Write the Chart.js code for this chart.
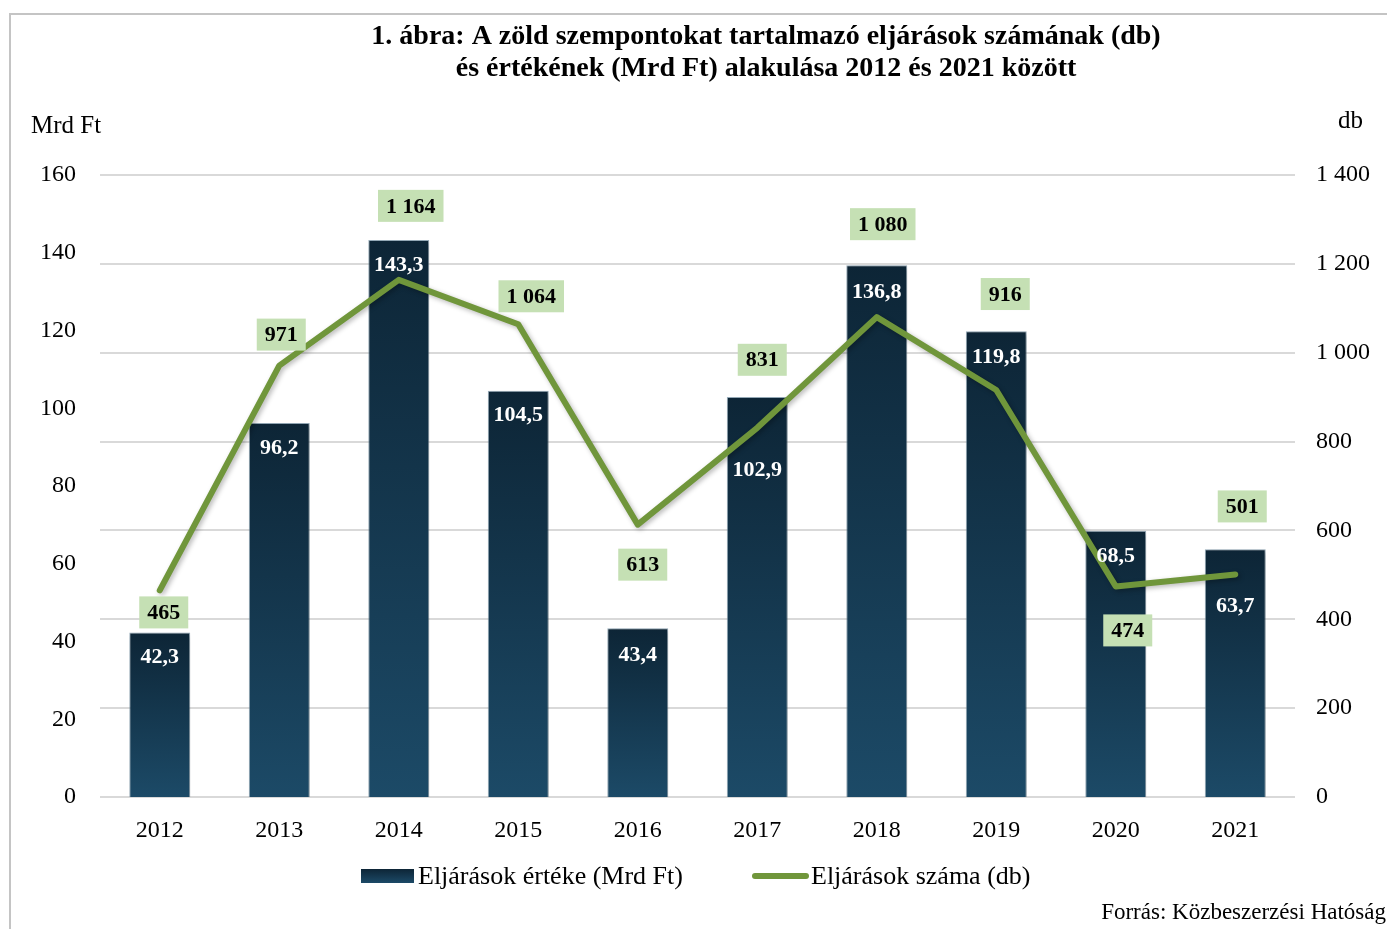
<!DOCTYPE html>
<html>
<head>
<meta charset="utf-8">
<script src="https://cdn.jsdelivr.net/npm/chart.js@4.4.0/dist/chart.umd.min.js"></script>
<style>
html,body{margin:0;padding:0;background:#fff;}
#wrap{width:1387px;height:929px;position:relative;}
</style>
</head>
<body>
<div id="wrap"><canvas id="grafikon" width="1387" height="929"></canvas></div>
<script>
// adatok
var evek=["2012","2013","2014","2015","2016","2017","2018","2019","2020","2021"];
var ertekek=[42.3,96.2,143.3,104.5,43.4,102.9,136.8,119.8,68.5,63.7];
var darabok=[465,971,1164,1064,613,831,1080,916,474,501];
var cimSorok=["1. ábra: A zöld szempontokat tartalmazó eljárások számának (db)","és értékének (Mrd Ft) alakulása 2012 és 2021 között"];
var sorozatNevek=["Eljárások értéke (Mrd Ft)","Eljárások száma (db)"];
var forras="Forrás: Közbeszerzési Hatóság";

// cimkek eltolasa (px) a pontokhoz / oszlopok tetejehez kepest
var dbCimkeDx=[4,2,12,13,5,5,6,9,12,7];
var dbCimkeDy=[22,-31,-74,-28,40,-68,-93,-96,44,-68];
var ertekCimkeDy=[25,25,25,25,27,73,27,26,26,57];

var betu="'Liberation Serif', 'Times New Roman', serif";
var zold="#70963b";

function ezres(v){
    if(v>=1000){
        var m=v%1000;
        return Math.floor(v/1000)+" "+(m<10?"00":m<100?"0":"")+m;
    }
    return ""+v;
}
function tizedes(v){
    return v.toFixed(1).replace(".",",");
}

function oszlopSzin(c){
    var ch=c.chart, ca=ch.chartArea;
    if(!ca||c.dataIndex===undefined) return "#153a52";
    var teto=ch.scales.y.getPixelForValue(ertekek[c.dataIndex]);
    var g=ch.ctx.createLinearGradient(0,teto,0,ca.bottom);
    g.addColorStop(0,"#0d2536");
    g.addColorStop(1,"#1c4a67");
    return g;
}

var rajzolo={
    id:"rajzolo",
    beforeDraw:function(chart){
        var ctx=chart.ctx;
        ctx.save();
        ctx.strokeStyle="#c4c4c4";
        ctx.lineWidth=2;
        ctx.beginPath();
        ctx.moveTo(10,929);
        ctx.lineTo(10,14);
        ctx.lineTo(1387,14);
        ctx.stroke();
        ctx.restore();
    },
    beforeDatasetDraw:function(chart,args){
        var ctx=chart.ctx;
        ctx.save();
        ctx.shadowColor="rgba(0,0,0,0.28)";
        ctx.shadowBlur=5;
        ctx.shadowOffsetX=2;
        ctx.shadowOffsetY=2;
    },
    afterDatasetDraw:function(chart){
        chart.ctx.restore();
    },
    afterDatasetsDraw:function(chart){
        var ctx=chart.ctx;
        var oszlopok=chart.getDatasetMeta(0).data;
        var pontok=chart.getDatasetMeta(1).data;
        ctx.save();
        ctx.textAlign="center";
        ctx.textBaseline="middle";
        // oszlop cimkek
        ctx.font="bold 22px "+betu;
        ctx.fillStyle="#ffffff";
        for(var i=0;i<oszlopok.length;i++){
            var o=oszlopok[i];
            ctx.fillText(tizedes(ertekek[i]),o.x,o.y+ertekCimkeDy[i]);
        }
        // db cimkek zold dobozban
        ctx.font="bold 22px "+betu;
        for(var j=0;j<pontok.length;j++){
            var p=pontok[j];
            var szoveg=ezres(darabok[j]);
            var w=ctx.measureText(szoveg).width+16;
            var cx=p.x+dbCimkeDx[j], cy=p.y+dbCimkeDy[j];
            ctx.fillStyle="#c5e0b4";
            ctx.fillRect(cx-w/2,cy-16,w,32);
            ctx.fillStyle="#000000";
            ctx.fillText(szoveg,cx,cy+1);
        }
        ctx.restore();
    },
    afterDraw:function(chart){
        var ctx=chart.ctx;
        ctx.save();
        ctx.fillStyle="#000";
        ctx.textBaseline="middle";
        // cim
        ctx.textAlign="center";
        ctx.font="bold 28px "+betu;
        ctx.fillText(cimSorok[0],766,37);
        ctx.fillText(cimSorok[1],766,69);
        // tengely cimek
        ctx.font="25px "+betu;
        ctx.textAlign="left";
        ctx.fillText("Mrd Ft",31,126);
        ctx.fillText("db",1338,121);
        // jelmagyarazat
        var g=ctx.createLinearGradient(0,869,0,883);
        g.addColorStop(0,"#0d2536");
        g.addColorStop(1,"#1c4a67");
        ctx.fillStyle=g;
        ctx.fillRect(361,869,53,14);
        ctx.fillStyle="#000";
        ctx.font="26px "+betu;
        ctx.fillText(sorozatNevek[0],418,877);
        ctx.strokeStyle=zold;
        ctx.lineWidth=6;
        ctx.lineCap="round";
        ctx.beginPath();
        ctx.moveTo(755,876);
        ctx.lineTo(806,876);
        ctx.stroke();
        ctx.fillText(sorozatNevek[1],811,877);
        // forras
        ctx.textAlign="right";
        ctx.font="23px "+betu;
        ctx.fillText(forras,1386,913);
        ctx.restore();
    }
};

var ctx=document.getElementById("grafikon").getContext("2d");
var chart=new Chart(ctx,{
    type:"bar",
    data:{
        labels:evek,
        datasets:[
            {type:"bar",label:sorozatNevek[0],data:ertekek,yAxisID:"y",order:1,
             backgroundColor:oszlopSzin,borderColor:"rgba(110,140,160,0.7)",borderWidth:1,
             barPercentage:0.51,categoryPercentage:1},
            {type:"line",label:sorozatNevek[1],data:darabok,yAxisID:"y1",order:0,
             borderColor:zold,borderWidth:6,pointRadius:0,tension:0,
             borderCapStyle:"round",borderJoinStyle:"round",fill:false}
        ]
    },
    options:{
        responsive:false,
        animation:false,
        layout:{padding:{top:175,left:0,right:0,bottom:0}},
        plugins:{legend:{display:false},title:{display:false},tooltip:{enabled:false}},
        scales:{
            x:{
                grid:{display:false},border:{display:false},
                ticks:{color:"#000",font:{family:betu,size:24},padding:11},
                afterFit:function(s){s.height=132;}
            },
            y:{
                position:"left",min:0,max:160,
                grid:{display:false},border:{display:false},
                ticks:{stepSize:20,color:"#000",font:{family:betu,size:24},padding:16},
                afterFit:function(s){s.width=100;}
            },
            y1:{
                position:"right",min:0,max:1400,
                grid:{color:"#d9d9d9",lineWidth:2,drawTicks:false},border:{display:false},
                ticks:{stepSize:200,color:"#000",font:{family:betu,size:24},padding:21,
                       callback:function(v){return ezres(v);}},
                afterFit:function(s){s.width=92;}
            }
        }
    },
    plugins:[rajzolo]
});
</script>
</body>
</html>
